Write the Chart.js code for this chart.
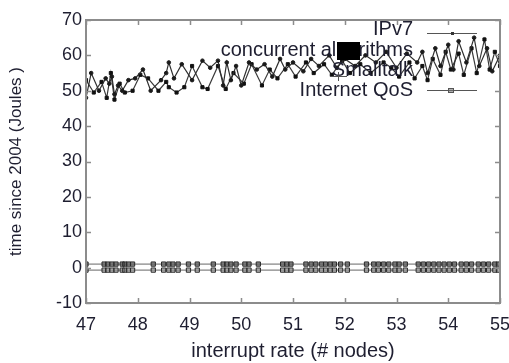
<!DOCTYPE html>
<html><head><meta charset="utf-8">
<script src="https://cdn.jsdelivr.net/npm/chart.js@4"></script>
<style>html,body{margin:0;padding:0;background:#fff;}canvas{display:block;}</style>
</head><body>
<canvas id="c" width="509" height="363"></canvas>
<script>
const xTitle = 'interrupt rate (# nodes)';
const yTitle = 'time since 2004 (Joules )';
const seriesNames = ['IPv7', 'concurrent algorithms', 'Smalltalk', 'Internet QoS'];
const xTicks = [47, 48, 49, 50, 51, 52, 53, 54, 55];
const yTicks = [-10, 0, 10, 20, 30, 40, 50, 60, 70];

const ipv7X = [47.0, 47.1, 47.25, 47.38, 47.45, 47.5, 47.55, 47.62, 47.7, 47.82, 47.95, 48.1, 48.25, 48.45, 48.55, 48.6, 48.7, 48.85, 49.05, 49.25, 49.4, 49.55, 49.65, 49.72, 49.8, 49.9, 50.0, 50.15, 50.3, 50.45, 50.6, 50.75, 50.85, 51.0, 51.2, 51.35, 51.5, 51.7, 51.85, 52.0, 52.2, 52.4, 52.6, 52.8, 53.0, 53.2, 53.4, 53.5, 53.6, 53.75, 53.85, 54.0, 54.1, 54.2, 54.35, 54.5, 54.6, 54.75, 54.85, 55.0];
const ipv7Y = [48, 55, 50, 53.5, 52, 54, 49, 51.5, 50, 53, 53.5, 56, 50, 53, 55, 58, 53.5, 57.5, 53, 58.5, 56.5, 58.5, 51.5, 58, 53, 57, 51.5, 58, 56, 57.5, 54, 59, 56, 58, 55.5, 59, 57, 60, 56.5, 59, 57, 60, 58, 61, 56.5, 60.5, 58, 61, 55, 62, 57, 63, 56, 64, 58, 65, 57, 62, 55.5, 60];

const concX = [47.0, 47.15, 47.3, 47.4, 47.48, 47.55, 47.65, 47.75, 47.9, 48.05, 48.2, 48.4, 48.55, 48.6, 48.75, 48.9, 49.05, 49.25, 49.35, 49.55, 49.7, 49.85, 50.05, 50.2, 50.4, 50.55, 50.7, 50.9, 51.05, 51.25, 51.4, 51.6, 51.75, 51.95, 52.1, 52.3, 52.5, 52.75, 52.9, 53.05, 53.25, 53.35, 53.5, 53.6, 53.7, 53.85, 53.95, 54.05, 54.2, 54.3, 54.45, 54.55, 54.7, 54.8, 54.9, 55.0];
const concY = [53, 49.5, 52.5, 48, 55, 47.5, 52, 49.5, 50, 54.5, 53.5, 50, 52.5, 51, 49.5, 51, 57, 51, 50.5, 57, 50.5, 55, 52, 57.5, 51.5, 56, 53.5, 57.5, 54, 58, 55, 57.5, 54.5, 58.5, 55, 57.5, 55, 58, 56.5, 54, 58, 53.5, 57, 53, 59, 54.5, 61, 56, 60.5, 54.5, 62, 55, 64.5, 56, 61, 57];

const lowX = [47.0, 47.35, 47.42, 47.5, 47.58, 47.7, 47.75, 47.82, 47.9, 48.3, 48.5, 48.6, 48.68, 48.78, 48.98, 49.15, 49.46, 49.65, 49.72, 49.8, 49.9, 50.07, 50.15, 50.33, 50.8, 50.88, 50.96, 51.25, 51.35, 51.44, 51.55, 51.63, 51.72, 51.8, 51.92, 52.05, 52.42, 52.56, 52.65, 52.75, 52.85, 52.97, 53.05, 53.17, 53.42, 53.52, 53.62, 53.72, 53.82, 53.92, 54.02, 54.12, 54.25, 54.35, 54.45, 54.58, 54.68, 54.78, 54.9, 54.97];
const smalltalkY = [1, 1, 1, 1, 1, 1, 1, 1, 1, 1, 1, 1, 1, 1, 1, 1, 1, 1, 1, 1, 1, 1, 1, 1, 1, 1, 1, 1, 1, 1, 1, 1, 1, 1, 1, 1, 1, 1, 1, 1, 1, 1, 1, 1, 1, 1, 1, 1, 1, 1, 1, 1, 1, 1, 1, 1, 1, 1, 1, 1];
const qosY = [-0.7, -0.7, -0.7, -0.7, -0.7, -0.7, -0.7, -0.7, -0.7, -0.7, -0.7, -0.7, -0.7, -0.7, -0.7, -0.7, -0.7, -0.7, -0.7, -0.7, -0.7, -0.7, -0.7, -0.7, -0.7, -0.7, -0.7, -0.7, -0.7, -0.7, -0.7, -0.7, -0.7, -0.7, -0.7, -0.7, -0.7, -0.7, -0.7, -0.7, -0.7, -0.7, -0.7, -0.7, -0.7, -0.7, -0.7, -0.7, -0.7, -0.7, -0.7, -0.7, -0.7, -0.7, -0.7, -0.7, -0.7, -0.7, -0.7, -0.7];

const pts = (xs, ys) => xs.map((x, i) => ({x: x, y: ys[i]}));
const FONT = 'Liberation Sans, Arial, sans-serif';
const TXT = '#1e1e30';
const AXIS = '#8c8c8c';

const framePlugin = {
  id: 'frame',
  afterDraw(chart) {
    const {ctx, chartArea: a, scales} = chart;
    ctx.save();
    ctx.strokeStyle = AXIS;
    ctx.lineWidth = 1.5;
    xTicks.forEach(v => {
      const px = Math.round(scales.x.getPixelForValue(v)) + 0.5;
      ctx.beginPath(); ctx.moveTo(px, a.bottom); ctx.lineTo(px, a.bottom - 5);
      ctx.moveTo(px, a.top); ctx.lineTo(px, a.top + 5); ctx.stroke();
    });
    yTicks.forEach(v => {
      const py = Math.round(scales.y.getPixelForValue(v)) + 0.5;
      ctx.beginPath(); ctx.moveTo(a.left, py); ctx.lineTo(a.left + 5, py);
      ctx.moveTo(a.right, py); ctx.lineTo(a.right - 5, py); ctx.stroke();
    });
    ctx.lineWidth = 2;
    ctx.strokeRect(a.left, a.top, a.right - a.left, a.bottom - a.top);
    ctx.restore();
  }
};

const legendPlugin = {
  id: 'gpLegend',
  afterDraw(chart) {
    const ctx = chart.ctx;
    const rows = [29, 50, 70, 90];
    ctx.save();
    ctx.font = '20px ' + FONT;
    ctx.fillStyle = TXT;
    ctx.textAlign = 'right';
    ctx.textBaseline = 'middle';
    seriesNames.forEach((n, i) => ctx.fillText(n, 413, rows[i]));
    ctx.strokeStyle = '#555';
    ctx.lineWidth = 1;
    ctx.beginPath(); ctx.moveTo(427, 33.5); ctx.lineTo(477, 33.5); ctx.stroke();
    ctx.fillStyle = '#333';
    ctx.fillRect(451, 32, 3, 3);
    ctx.fillStyle = '#000';
    ctx.fillRect(337, 42, 23, 18);
    ctx.beginPath(); ctx.moveTo(330, 76.5); ctx.lineTo(347, 76.5);
    ctx.moveTo(338.5, 72); ctx.lineTo(338.5, 81); ctx.stroke();
    ctx.beginPath(); ctx.moveTo(427, 90.5); ctx.lineTo(477, 90.5); ctx.stroke();
    ctx.fillStyle = 'rgba(120,120,120,0.6)';
    ctx.fillRect(448, 88, 6, 5);
    ctx.strokeRect(448.5, 88.5, 5, 4);
    ctx.restore();
  }
};

new Chart(document.getElementById('c'), {
  type: 'line',
  data: {
    datasets: [
      {label: seriesNames[0], data: pts(ipv7X, ipv7Y), borderColor: '#2e2e2e', borderWidth: 1.2,
       pointRadius: 1.8, pointStyle: 'circle', pointBackgroundColor: '#1a1a1a', pointBorderColor: '#1a1a1a', pointBorderWidth: 1},
      {label: seriesNames[1], data: pts(concX, concY), borderColor: '#3a3a3a', borderWidth: 1.2,
       pointRadius: 2.2, pointStyle: 'rect', pointBackgroundColor: '#111', pointBorderColor: '#111', pointBorderWidth: 1},
      {label: seriesNames[2], data: pts(lowX, smalltalkY), borderColor: '#666', borderWidth: 1,
       pointRadius: 3, pointStyle: 'rect', pointBackgroundColor: 'rgba(70,70,70,0.6)', pointBorderColor: '#2a2a2a', pointBorderWidth: 1},
      {label: seriesNames[3], data: pts(lowX, qosY), borderColor: '#666', borderWidth: 1,
       pointRadius: 3, pointStyle: 'rect', pointBackgroundColor: 'rgba(130,130,130,0.5)', pointBorderColor: '#2a2a2a', pointBorderWidth: 1}
    ]
  },
  options: {
    responsive: false,
    animation: false,
    events: [],
    layout: {padding: {top: 20, right: 9, left: 0, bottom: 0}},
    plugins: {legend: {display: false}, tooltip: {enabled: false}},
    scales: {
      x: {
        type: 'linear', min: 47, max: 55,
        afterBuildTicks: s => { s.ticks = xTicks.map(v => ({value: v})); },
        afterFit: s => { s.height = 60; s.paddingLeft = 0; s.paddingRight = 0; },
        grid: {display: false, drawTicks: false},
        border: {display: false},
        ticks: {font: {family: FONT, size: 18}, color: TXT, padding: 11, autoSkip: false, maxRotation: 0},
        title: {display: true, text: xTitle, font: {family: FONT, size: 20}, color: TXT, padding: {top: 0, bottom: 0}}
      },
      y: {
        type: 'linear', min: -10, max: 70,
        afterBuildTicks: s => { s.ticks = yTicks.map(v => ({value: v})); },
        afterFit: s => { s.width = 86; s.paddingTop = 0; s.paddingBottom = 0; },
        grid: {display: false, drawTicks: false},
        border: {display: false},
        ticks: {font: {family: FONT, size: 18}, color: TXT, padding: 4, autoSkip: false},
        title: {display: true, text: yTitle, font: {family: FONT, size: 17}, color: TXT, padding: {top: 6, bottom: 0}}
      }
    }
  },
  plugins: [framePlugin, legendPlugin]
});
</script>
</body></html>
